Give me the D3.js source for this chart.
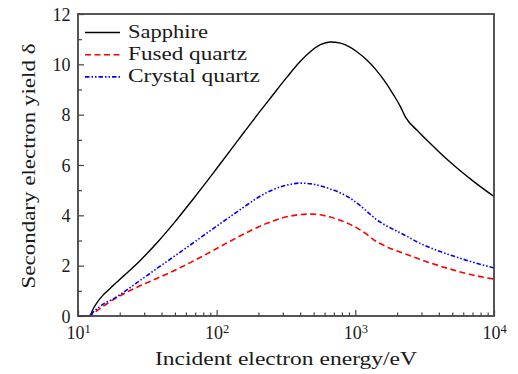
<!DOCTYPE html>
<html>
<head>
<meta charset="utf-8">
<script src="https://cdn.jsdelivr.net/npm/d3@7"></script>
<style>
  body { margin: 0; background: #fff; }
  svg { display: block; }
  svg text { font-family: "Liberation Serif", "DejaVu Serif", serif; fill: #1a1a1a; }
</style>
</head>
<body>
<svg id="chart" width="518" height="374"></svg>
<script>
// Incident electron energy (eV)
const energy = [10, 12, 13, 14, 15, 16.5, 18, 22, 28, 38, 50, 66, 80, 100, 130, 160, 200, 250, 320, 400, 480, 560, 660, 780, 900, 1020, 1200, 1400, 1600, 1900, 2100, 2300, 2800, 3300, 4000, 4800, 5800, 7000, 8400, 10000];

// Secondary electron yield for each material
const sapphire = [0, 0, 0.33, 0.6, 0.8, 1.02, 1.22, 1.66, 2.2, 2.97, 3.74, 4.57, 5.16, 5.86, 6.69, 7.35, 8.05, 8.73, 9.48, 10.11, 10.53, 10.78, 10.89, 10.84, 10.7, 10.51, 10.19, 9.8, 9.39, 8.76, 8.35, 7.9, 7.37, 6.97, 6.53, 6.13, 5.74, 5.38, 5.05, 4.75];
const fusedQuartz = [0, 0, 0.12, 0.25, 0.37, 0.52, 0.65, 0.92, 1.2, 1.52, 1.82, 2.15, 2.39, 2.68, 3.02, 3.28, 3.54, 3.76, 3.94, 4.03, 4.05, 4.02, 3.93, 3.8, 3.66, 3.51, 3.26, 2.98, 2.81, 2.63, 2.54, 2.46, 2.29, 2.15, 2.0, 1.87, 1.74, 1.63, 1.54, 1.47];
const crystalQuartz = [0, 0, 0.18, 0.33, 0.45, 0.58, 0.68, 1.0, 1.41, 1.93, 2.39, 2.86, 3.19, 3.57, 4.01, 4.36, 4.72, 5.0, 5.2, 5.28, 5.25, 5.17, 5.05, 4.89, 4.71, 4.5, 4.18, 3.86, 3.65, 3.43, 3.31, 3.2, 2.94, 2.76, 2.58, 2.43, 2.28, 2.14, 2.02, 1.91];

const seriesNames = ["Sapphire", "Fused quartz", "Crystal quartz"];
const xTickExponents = [1, 2, 3, 4];
const yTicks = [0, 2, 4, 6, 8, 10, 12];

const margin = { top: 14, right: 24, bottom: 58, left: 78 };
const width = 518, height = 374;
const serif = "'Liberation Serif', 'DejaVu Serif', serif";
const svg = d3.select("#chart");

const x = d3.scaleLog().domain([10, 10000]).range([margin.left, width - margin.right]);
const y = d3.scaleLinear().domain([0, 12]).range([height - margin.bottom, margin.top]);

const axisColor = "#444";

// minor ticks: 2..9 within each decade, odd integers on the y axis
const xMinor = [];
for (let e = 1; e < 4; e++) for (let m = 2; m <= 9; m++) xMinor.push(m * Math.pow(10, e));
const yMinor = [1, 3, 5, 7, 9, 11];

const xAxisMinor = svg.append("g")
  .attr("transform", `translate(0,${y(0)})`)
  .call(d3.axisBottom(x).tickValues(xMinor).tickSize(-3.5).tickFormat(""));
const yAxisMinor = svg.append("g")
  .attr("transform", `translate(${x(10)},0)`)
  .call(d3.axisLeft(y).tickValues(yMinor).tickSize(-4).tickFormat(""));

const xAxis = svg.append("g")
  .attr("transform", `translate(0,${y(0)})`)
  .call(d3.axisBottom(x).tickValues(xTickExponents.map(p => Math.pow(10, p))).tickSize(-6).tickFormat(""));
const yAxis = svg.append("g")
  .attr("transform", `translate(${x(10)},0)`)
  .call(d3.axisLeft(y).tickValues(yTicks).tickSize(-6).tickFormat(d3.format("d")));

[xAxisMinor, yAxisMinor, xAxis, yAxis].forEach(g => {
  g.attr("font-family", serif);
  g.select(".domain").remove();
  g.selectAll(".tick line").attr("stroke", axisColor).attr("stroke-width", 1.2);
});

// y tick labels
yAxis.selectAll(".tick text")
  .attr("font-family", serif)
  .attr("font-size", 18)
  .attr("fill", "#1a1a1a")
  .attr("x", -7.5)
  .attr("dy", "0.34em");

// x tick labels as powers of ten
xAxis.selectAll(".tick").each(function(d) {
  const p = Math.round(Math.log10(d));
  const t = d3.select(this).append("text")
    .attr("y", 23)
    .attr("text-anchor", "middle")
    .attr("font-family", serif)
    .attr("font-size", 18)
    .attr("fill", "#1a1a1a");
  t.append("tspan").text("10");
  t.append("tspan").attr("font-size", 12.5).attr("dy", -6).text(p);
});

// data lines
const styles = [
  { values: sapphire, color: "#000000", dash: null, w: 1.4 },
  { values: fusedQuartz, color: "#ff0000", dash: "6,3.5", w: 1.6 },
  { values: crystalQuartz, color: "#0000ff", dash: "4.5,2,1.5,2,1.5,2", w: 1.6 }
];

const line = d3.line()
  .x(d => x(d[0]))
  .y(d => y(d[1]))
  .curve(d3.curveMonotoneX);

styles.forEach(s => {
  svg.append("path")
    .datum(energy.map((e, i) => [e, s.values[i]]))
    .attr("fill", "none")
    .attr("stroke", s.color)
    .attr("stroke-width", s.w)
    .attr("stroke-dasharray", s.dash)
    .attr("d", line);
});

// frame
svg.append("rect")
  .attr("x", x(10)).attr("y", y(12))
  .attr("width", x(10000) - x(10)).attr("height", y(0) - y(12))
  .attr("fill", "none")
  .attr("stroke", axisColor)
  .attr("stroke-width", 1.8);

// legend
const legendLens = [80, 119, 132];
const legend = svg.append("g").attr("font-family", serif);
seriesNames.forEach((name, i) => {
  const ly = 32.5 + i * 22.2;
  legend.append("line")
    .attr("x1", 85).attr("x2", 120)
    .attr("y1", ly).attr("y2", ly)
    .attr("stroke", styles[i].color)
    .attr("stroke-width", styles[i].w)
    .attr("stroke-dasharray", styles[i].dash);
  legend.append("text")
    .attr("x", 128).attr("y", ly + 5.5)
    .attr("font-size", 18)
    .attr("textLength", legendLens[i])
    .attr("lengthAdjust", "spacingAndGlyphs")
    .text(name);
});

// axis titles
svg.append("text")
  .attr("x", (x(10) + x(10000)) / 2)
  .attr("y", 365)
  .attr("text-anchor", "middle")
  .attr("font-family", serif)
  .attr("font-size", 18)
  .attr("textLength", 262)
  .attr("lengthAdjust", "spacingAndGlyphs")
  .text("Incident electron energy/eV");

svg.append("text")
  .attr("transform", `translate(35,${(y(0) + y(12)) / 2 + 1}) rotate(-90)`)
  .attr("text-anchor", "middle")
  .attr("font-family", serif)
  .attr("font-size", 18)
  .attr("textLength", 245)
  .attr("lengthAdjust", "spacingAndGlyphs")
  .text("Secondary electron yield δ");
</script>
</body>
</html>
